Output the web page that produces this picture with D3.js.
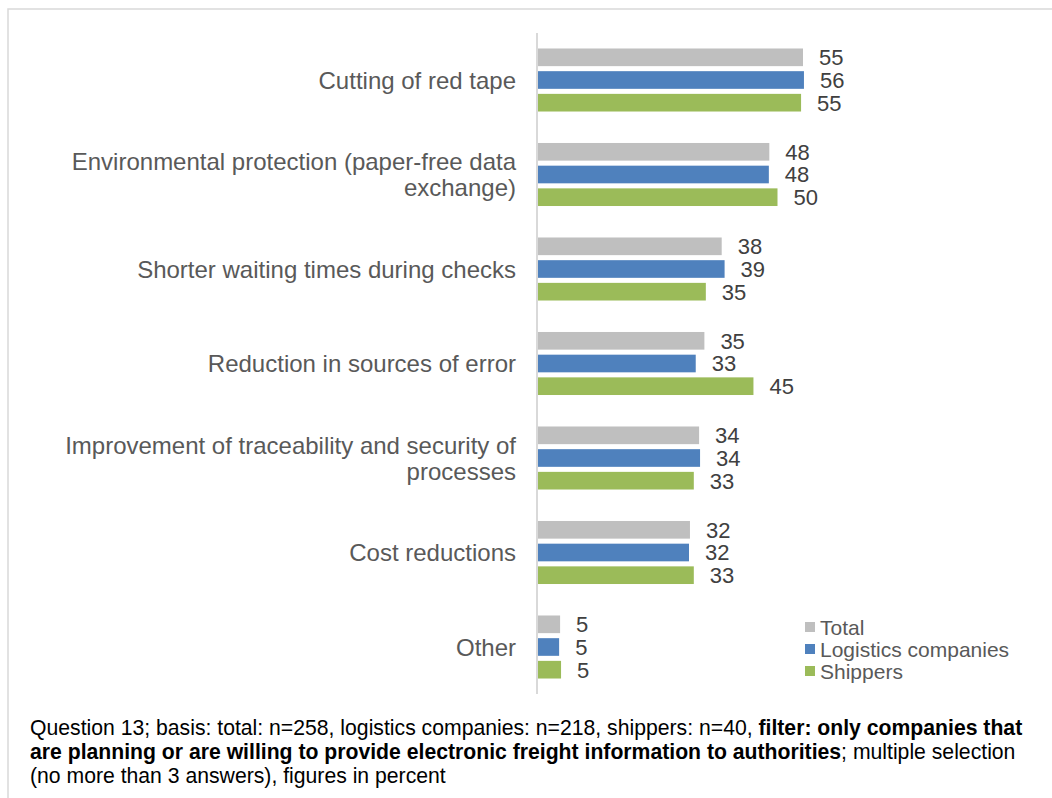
<!DOCTYPE html>
<html>
<head>
<meta charset="utf-8">
<script src="https://cdn.jsdelivr.net/npm/d3@7"></script>
<style>
  html, body { margin: 0; padding: 0; background: #fff; }
  svg { display: block; }
  text { font-family: "Liberation Sans", Arial, sans-serif; }
</style>
</head>
<body>
<svg id="chart" width="1052" height="798"></svg>
<script>
const categories = [
  ["Cutting of red tape"],
  ["Environmental protection (paper-free data", "exchange)"],
  ["Shorter waiting times during checks"],
  ["Reduction in sources of error"],
  ["Improvement of traceability and security of", "processes"],
  ["Cost reductions"],
  ["Other"]
];
const seriesNames = ["Total", "Logistics companies", "Shippers"];
const totalValues     = [55.3, 48.3, 38.4, 34.8, 33.7, 31.8, 4.8];
const logisticsValues = [55.5, 48.2, 39.0, 33.0, 33.9, 31.6, 4.6];
const shippersValues  = [54.9, 50.0, 35.1, 45.0, 32.6, 32.6, 5.0];
const seriesColors = ["#bfbfbf", "#4f81bd", "#9bbb59"];
const footnoteLines = [
  [["Question 13; basis: total: n=258, logistics companies: n=218, shippers: n=40, ", false], ["filter: only companies that", true]],
  [["are planning or are willing to provide electronic freight information to authorities", true], ["; multiple selection", false]],
  [["(no more than 3 answers), figures in percent", false]]
];

const seriesValues = [totalValues, logisticsValues, shippersValues];
const catKeys = categories.map(c => c.join(" "));
const svg = d3.select("#chart");

// frame
svg.append("rect").attr("x", 8).attr("y", 9).attr("width", 1100).attr("height", 900)
  .attr("fill", "none").attr("stroke", "#d9d9d9").attr("stroke-width", 1.5);

const x = d3.scaleLinear().domain([0, 60]).range([537, 537 + 60 * 4.81]);
const y = d3.scaleBand().domain(catKeys).range([32.75, 694.25]).paddingInner(0.333).paddingOuter(0.1665);
const ySub = d3.scaleBand().domain(seriesNames).range([0, y.bandwidth()]).paddingInner(0.222);

const groups = svg.append("g").selectAll("g").data(catKeys).join("g")
  .attr("transform", d => `translate(0,${y(d)})`);

groups.each(function(key, ci) {
  const g = d3.select(this);
  seriesNames.forEach((s, si) => {
    const v = seriesValues[si][ci];
    g.append("rect")
      .attr("x", x(0)).attr("y", ySub(s))
      .attr("width", x(v) - x(0)).attr("height", ySub.bandwidth())
      .attr("fill", seriesColors[si]);
    g.append("text")
      .attr("x", x(v) + 16).attr("y", ySub(s) + ySub.bandwidth() / 2)
      .attr("dy", "0.36em")
      .attr("font-size", 22).attr("fill", "#404040")
      .text(d3.format(".0f")(v));
  });
});

// category labels
const labelG = svg.append("g");
categories.forEach((lines, i) => {
  const cy = y(catKeys[i]) + y.bandwidth() / 2;
  const lh = 26;
  const t = labelG.append("text").attr("text-anchor", "end").attr("font-size", 24).attr("fill", "#595959");
  lines.forEach((ln, li) => {
    t.append("tspan").attr("x", 516)
      .attr("y", cy + (li - (lines.length - 1) / 2) * lh)
      .attr("dy", "0.36em").text(ln);
  });
});

// axis line
svg.append("line").attr("x1", x(0)).attr("x2", x(0)).attr("y1", 33).attr("y2", 694)
  .attr("stroke", "#d9d9d9").attr("stroke-width", 2);

// legend
const legend = svg.append("g").selectAll("g").data(seriesNames).join("g")
  .attr("transform", (d, i) => `translate(805,${627 + i * 22})`);
legend.append("rect").attr("x", 0).attr("y", -5).attr("width", 10).attr("height", 10)
  .attr("fill", (d, i) => seriesColors[i]);
legend.append("text").attr("x", 15).attr("y", 0).attr("dy", "0.36em")
  .attr("font-size", 21).attr("fill", "#595959").text(d => d);

// footnote
const fn = svg.append("g");
footnoteLines.forEach((parts, i) => {
  const t = fn.append("text").attr("x", 30).attr("y", 735 + i * 24).attr("font-size", 21.2).attr("fill", "#000");
  parts.forEach(([txt, bold]) => {
    t.append("tspan").attr("font-weight", bold ? "bold" : "normal").text(txt);
  });
});
</script>
</body>
</html>
